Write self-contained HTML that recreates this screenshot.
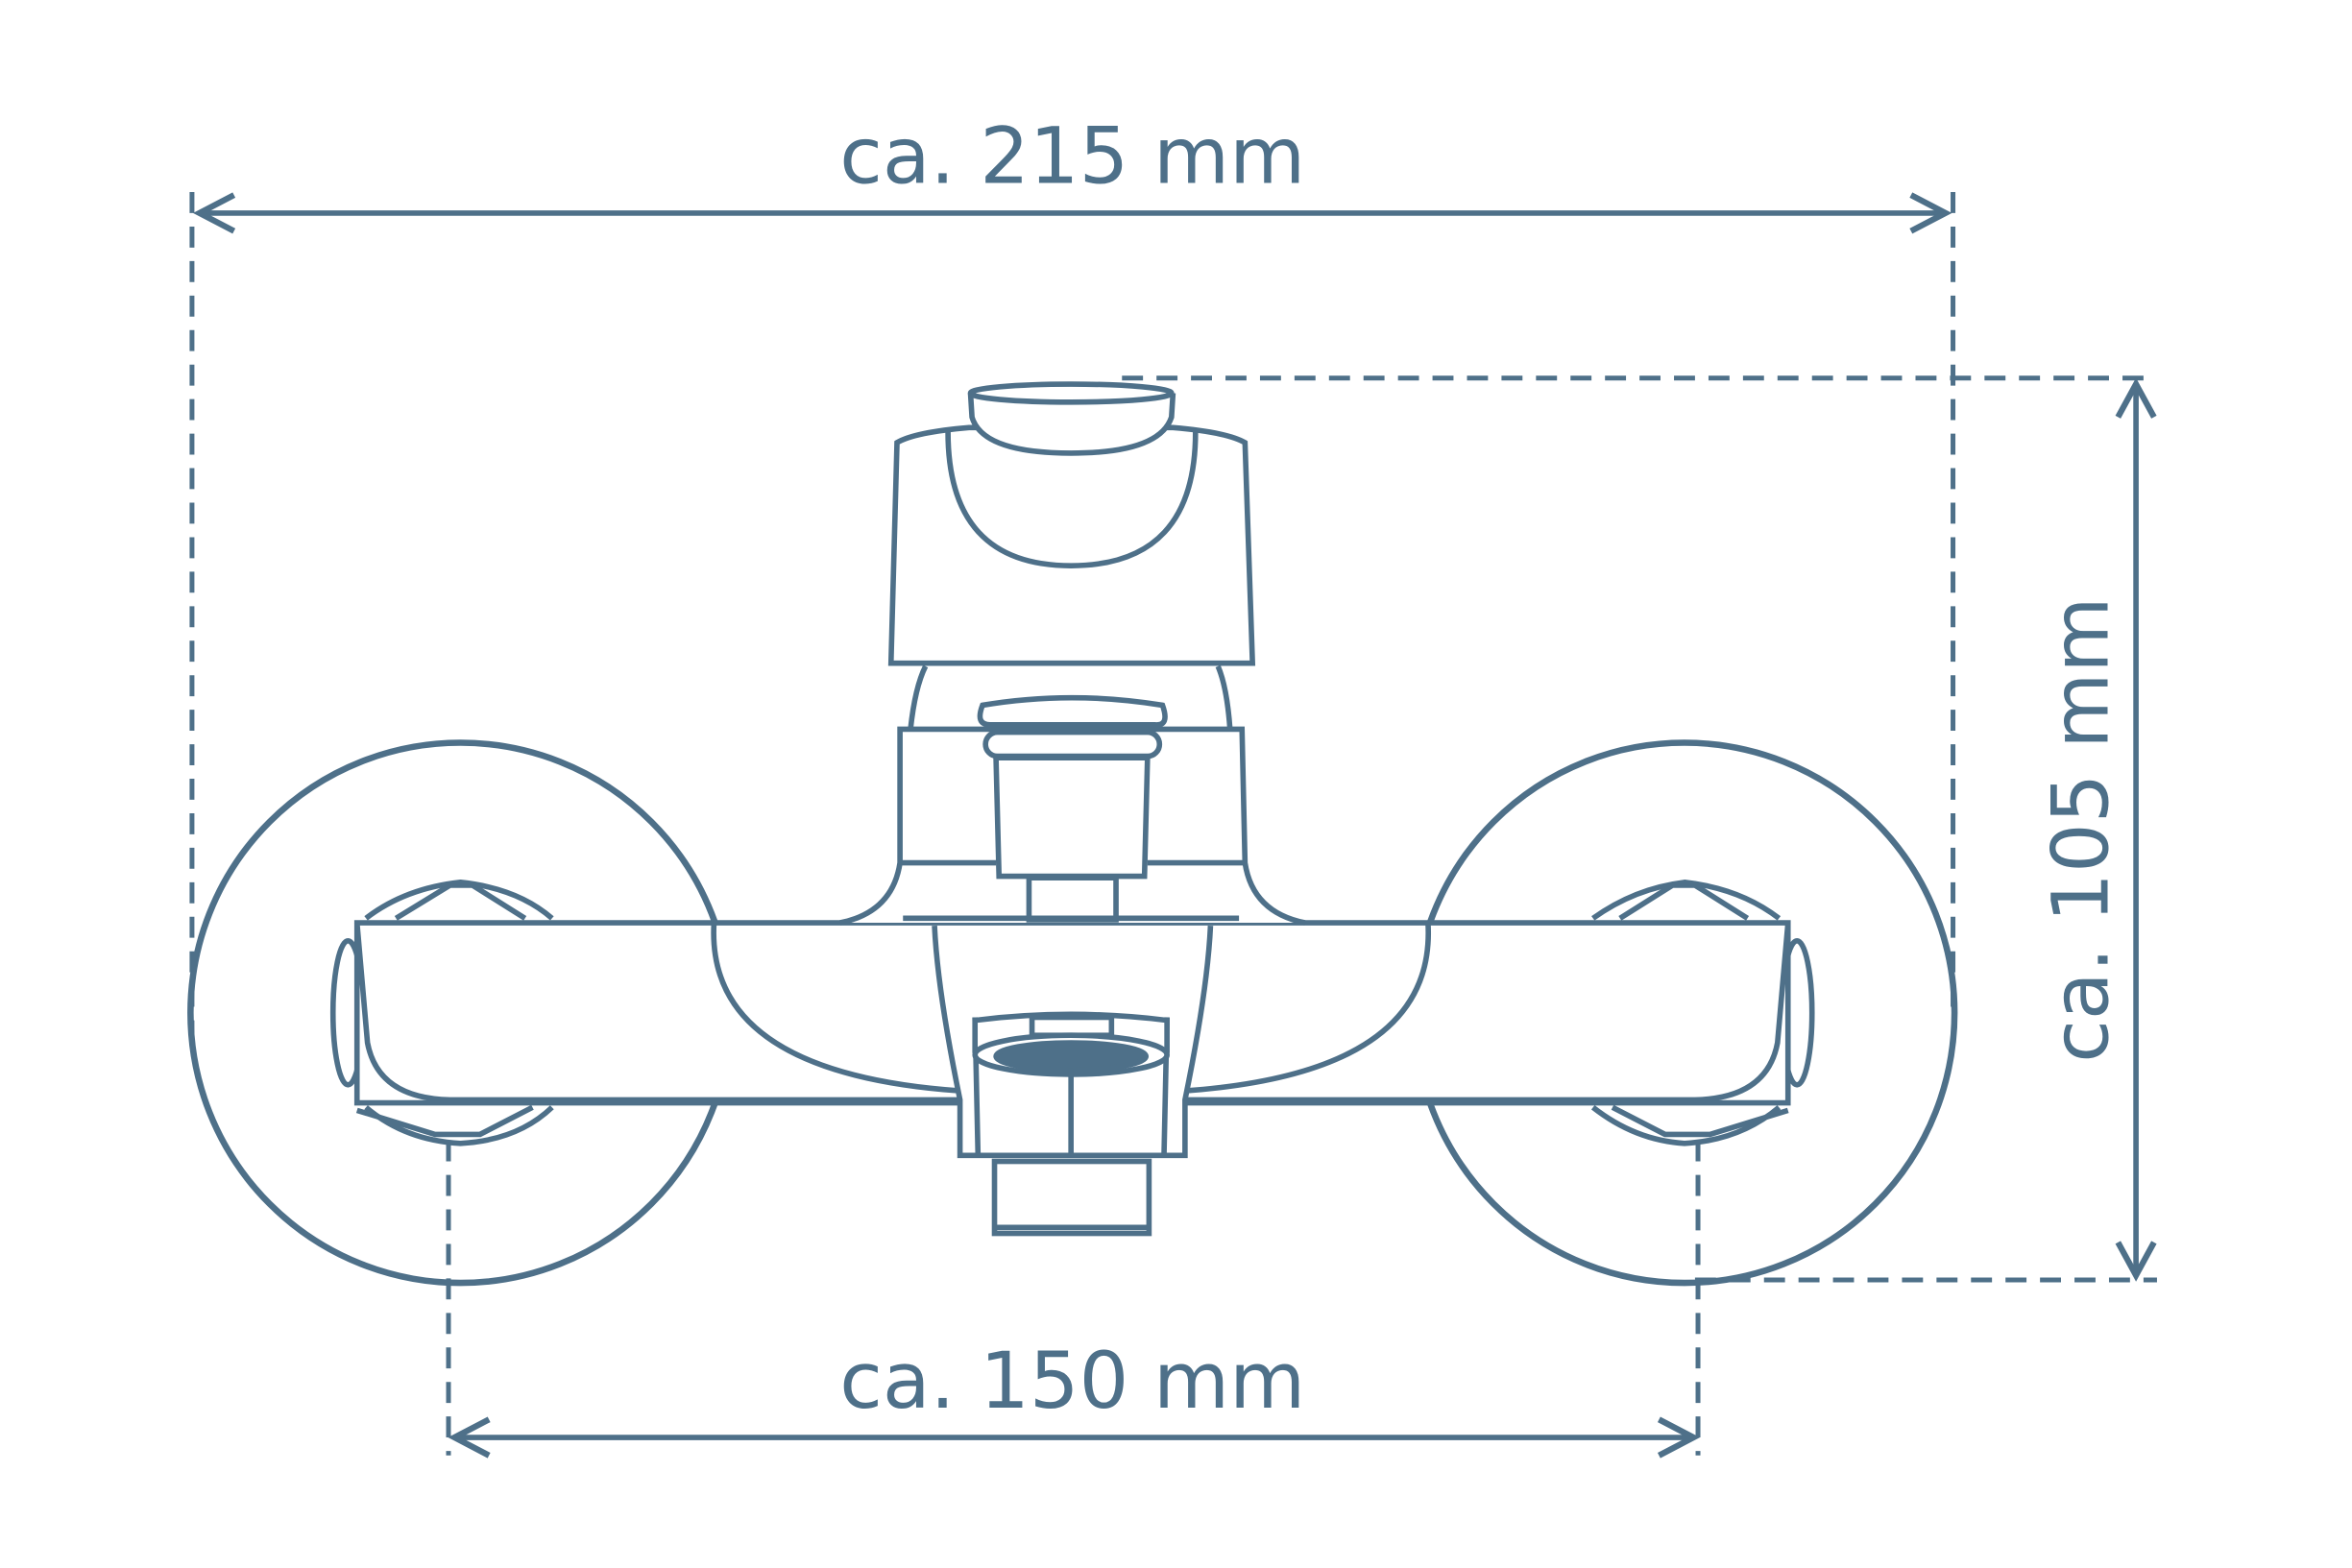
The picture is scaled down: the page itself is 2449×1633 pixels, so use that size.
<!DOCTYPE html>
<html><head><style>html,body{margin:0;padding:0;background:#fff}svg{display:block}</style></head>
<body>
<svg width="2449" height="1633" viewBox="0 0 1568 1045" preserveAspectRatio="none" xmlns="http://www.w3.org/2000/svg">
<g fill="none" stroke="#4e7089" stroke-width="3.6">
<g stroke-dasharray="14,9" stroke-width="3.2">
<line x1="128" y1="128" x2="128" y2="690"/>
<line x1="1302" y1="128" x2="1302" y2="672"/>
<line x1="748" y1="252" x2="1438" y2="252"/>
<line x1="1130" y1="853" x2="1438" y2="853"/>
<line x1="299" y1="760" x2="299" y2="970"/>
<line x1="1132" y1="760" x2="1132" y2="970"/>
</g>
<line x1="134" y1="142" x2="1296" y2="142"/>
<path d="M156 130 L133 142 L156 154 M1274 130 L1297 142 L1274 154" stroke-width="4"/>
<line x1="1424" y1="258" x2="1424" y2="848"/>
<path d="M1412 278 L1424 256 L1436 278 M1412 828 L1424 850 L1436 828" stroke-width="4"/>
<line x1="305" y1="958" x2="1127" y2="958"/>
<path d="M326 946 L303 958 L326 970 M1106 946 L1129 958 L1106 970" stroke-width="4"/>
<circle cx="307" cy="675" r="180" stroke-width="4.2"/>
<circle cx="1123" cy="675" r="180" stroke-width="4.2"/>
<path d="M244 612 Q270 592 307 588 Q345 592 368 612" fill="#fff"/>
<path d="M264 612 L300 590 L315 590 L350 612"/>
<path d="M244 738 Q270 760 307 762 Q345 760 368 738" fill="#fff"/>
<path d="M1062 612 Q1090 592 1123 588 Q1160 592 1186 612" fill="#fff"/>
<path d="M1080 612 L1115 590 L1130 590 L1165 612"/>
<path d="M1062 738 Q1090 760 1123 762 Q1160 760 1186 738" fill="#fff"/>
<ellipse cx="232" cy="675" rx="10" ry="48" fill="#fff"/>
<ellipse cx="1198" cy="675" rx="10" ry="48" fill="#fff"/>
<path d="M238 615 L1192 615 L1192 735 L238 735 Z" fill="#fff"/>
<path d="M238 615 L245 695 Q252 732 300 733 L640 733"/>
<path d="M1192 615 L1185 695 Q1178 732 1130 733 L790 733"/>
<path d="M476 615 Q470 715 640 727"/>
<path d="M952 615 Q958 715 790 727"/>
<path d="M238 740 L290 756 L320 756 L355 738" />
<path d="M1192 740 L1140 756 L1110 756 L1075 738" />
<path d="M560 615 Q595 608 600 575 L600 486 L828 486 L830 575 Q835 608 870 615" fill="#fff"/>
<path d="M600 575 L664 575 M765 575 L830 575"/>
<path d="M607 486 Q610 458 617 444 M820 486 Q818 458 812 444"/>
<rect x="686" y="585" width="58" height="28"/>
<path d="M602 612 L826 612"/>
<path d="M664 505 L666 584 L763 584 L765 505 Z" fill="#fff"/>
<rect x="657" y="488" width="116" height="16" rx="8" fill="#fff"/>
<path d="M655 470 Q714 460 775 470 Q780 484 770 483 L660 483 Q650 483 655 470 Z" fill="#fff"/>
<path d="M594 442 L598 295 Q610 288 646 285 L782 285 Q818 288 830 295 L835 442 Z" fill="#fff"/>
<path d="M632 288 Q632 377 714 377 Q797 377 797 288"/>
<path d="M647 262 L648 278 Q655 302 714 302 Q773 302 781 278 L782 262" fill="#fff"/>
<ellipse cx="714" cy="262" rx="67" ry="6" fill="#fff"/>
<path d="M623 617 Q625 660 640 733 L640 770 L790 770 L790 733 Q805 660 807 617" fill="#fff"/>
<path d="M650 678 L652 770 M778 678 L776 770"/>
<path d="M650 680 Q714 672 778 680 L778 700 L650 700 Z" fill="#fff"/>
<rect x="688" y="678" width="53" height="12" fill="#fff"/>
<ellipse cx="714" cy="703" rx="64" ry="13" fill="#fff"/>
<ellipse cx="714" cy="704" rx="50" ry="9" fill="#4e7089"/>
<line x1="714" y1="712" x2="714" y2="770"/>
<rect x="663" y="774" width="103" height="48" fill="#fff"/>
<line x1="663" y1="818" x2="766" y2="818"/>
</g>
<g fill="#4e7089" font-family="'DejaVu Sans','Liberation Sans',sans-serif" font-size="52" text-anchor="middle">
<text x="715" y="122">ca. 215 mm</text>
<text x="715" y="938">ca. 150 mm</text>
<text transform="translate(1405,553) rotate(-90)">ca. 105 mm</text>
</g>
</svg>
</body></html>
